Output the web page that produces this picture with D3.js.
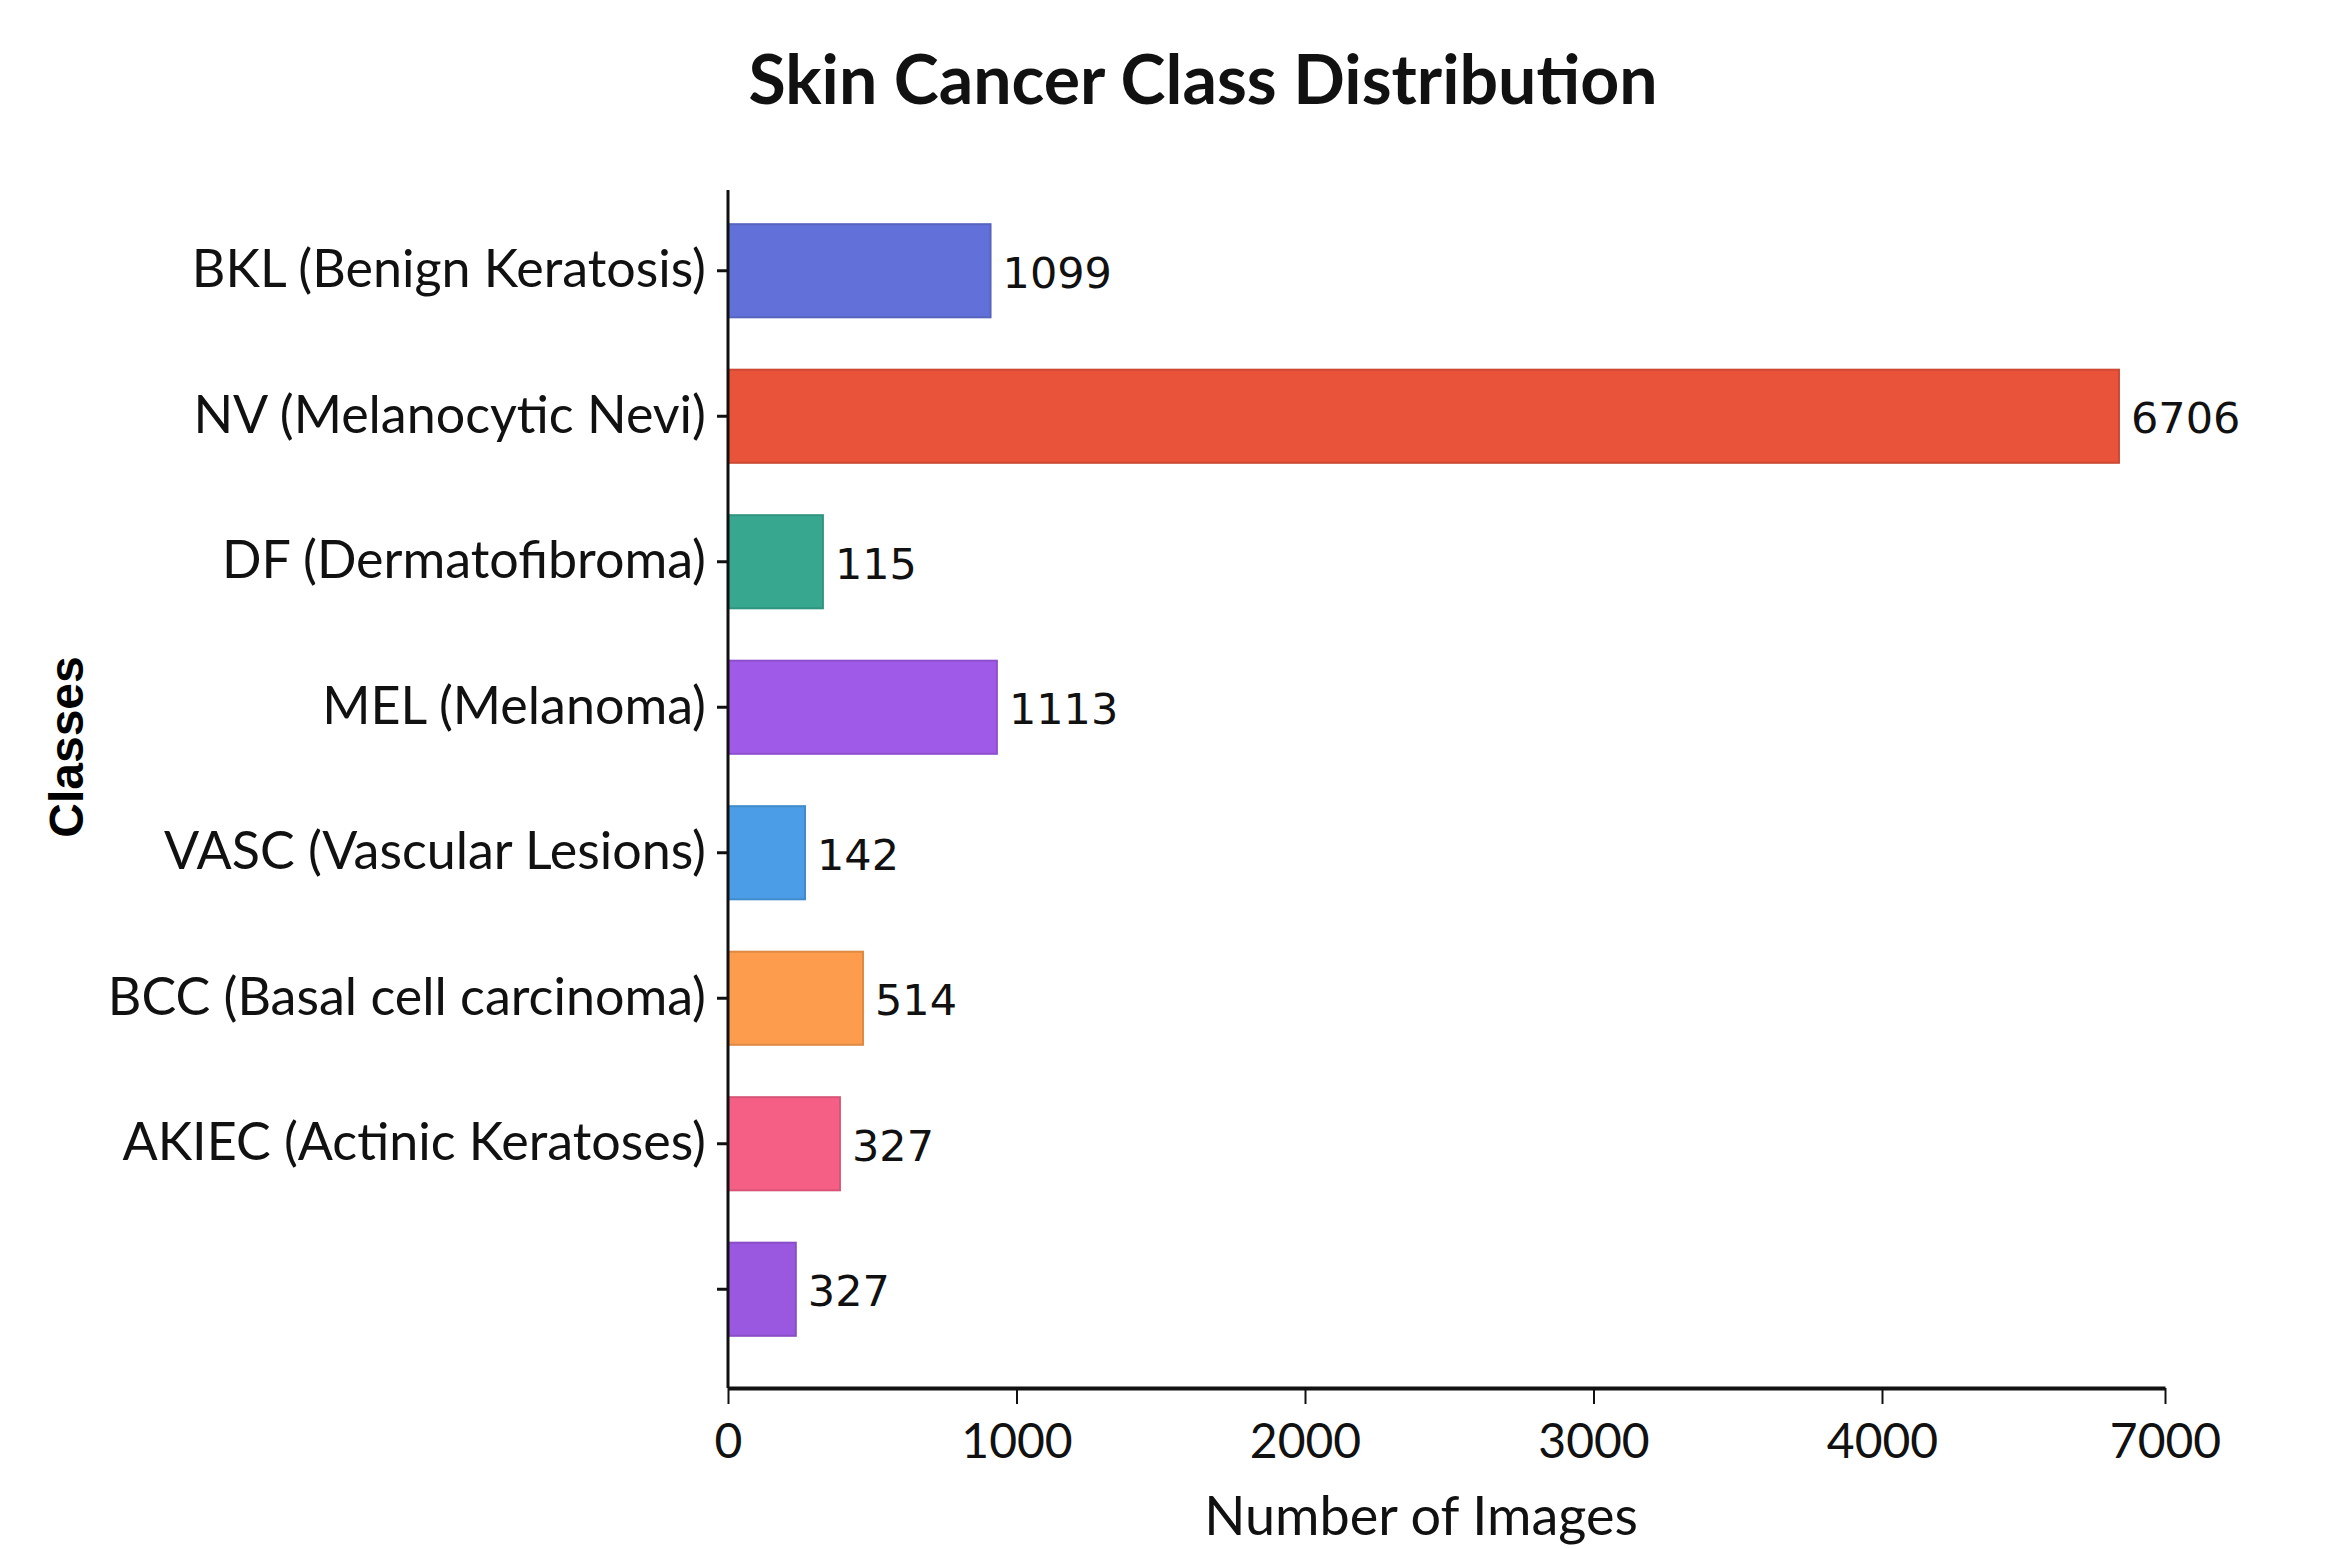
<!DOCTYPE html>
<html>
<head>
<meta charset="utf-8">
<script src="https://cdn.jsdelivr.net/npm/d3@7"></script>
<style>
  body { margin: 0; background: #fff; }
  svg { display: block; }
</style>
</head>
<body>
<svg id="chart"></svg>
<script>
// Class names (last bar has no label in the original)
var categories = [
    "BKL (Benign Keratosis)",
    "NV (Melanocytic Nevi)",
    "DF (Dermatofibroma)",
    "MEL (Melanoma)",
    "VASC (Vascular Lesions)",
    "BCC (Basal cell carcinoma)",
    "AKIEC (Actinic Keratoses)",
    ""
];

// Bar lengths as drawn against the axis
var barValues = [910, 6512, 329, 932, 267, 468, 388, 235];

// Numbers printed next to each bar
var valueLabels = [1099, 6706, 115, 1113, 142, 514, 327, 327];

var barColors = ["#6271d9", "#e8533a", "#37a88f", "#a05ae8", "#4a9de6", "#fc9c4c", "#f55f86", "#9a58e0"];

// Axis ticks (the axis jumps from 4000 to 7000)
var xTicks = [0, 1000, 2000, 3000, 4000, 7000];

var width = 2328;
var height = 1549;
var plotLeft = 728, plotRight = 2165, plotTop = 190, axisY = 1388;

var svg = d3.select("#chart")
    .attr("width", width)
    .attr("height", height);

var x = d3.scaleLinear()
    .domain([0, 4000, 7000])
    .range([plotLeft, 1882, plotRight]);

var y = d3.scaleBand()
    .domain(categories)
    .range([198, 1362])
    .paddingInner(0.36)
    .paddingOuter(0.18);

// Bars
svg.selectAll(".bar")
    .data(categories)
    .enter().append("rect")
    .attr("class", "bar")
    .attr("x", x(0))
    .attr("y", function(d) { return y(d); })
    .attr("width", function(d, i) { return x(barValues[i]) - x(0); })
    .attr("height", y.bandwidth())
    .attr("fill", function(d, i) { return barColors[i]; })
    .attr("stroke", function(d, i) { return d3.color(barColors[i]).darker(0.35); })
    .attr("stroke-width", 2);

// Value labels
svg.selectAll(".value")
    .data(categories)
    .enter().append("text")
    .attr("class", "value")
    .attr("x", function(d, i) { return x(barValues[i]) + 12; })
    .attr("y", function(d) { return y(d) + y.bandwidth() / 2; })
    .attr("dy", "0.4em")
    .style("font-family", "'DejaVu Sans', sans-serif")
    .style("font-size", "43px")
    .style("fill", "#111")
    .text(function(d, i) { return valueLabels[i]; });

// Y axis
var yAxis = svg.append("g")
    .attr("transform", "translate(" + plotLeft + ",0)")
    .call(d3.axisLeft(y).tickSize(11).tickPadding(11));
yAxis.select(".domain").remove();
yAxis.selectAll(".tick line").attr("stroke", "#111").attr("stroke-width", 3);
yAxis.selectAll(".tick text")
    .style("font-family", "Lato, sans-serif")
    .style("font-size", "52px")
    .style("fill", "#111");

svg.append("line")
    .attr("x1", plotLeft).attr("x2", plotLeft)
    .attr("y1", plotTop).attr("y2", axisY)
    .attr("stroke", "#111")
    .attr("stroke-width", 3);

// X axis
var xAxis = svg.append("g")
    .attr("transform", "translate(0," + axisY + ")")
    .call(d3.axisBottom(x).tickValues(xTicks).tickFormat(d3.format("d"))
        .tickSize(16).tickSizeOuter(0).tickPadding(20));
xAxis.select(".domain").attr("stroke", "#111").attr("stroke-width", 4);
xAxis.selectAll(".tick line").attr("stroke", "#111").attr("stroke-width", 2);
xAxis.selectAll(".tick text")
    .style("font-family", "Lato, sans-serif")
    .style("font-size", "48px")
    .style("fill", "#111");

// Title and axis labels
svg.append("text")
    .attr("x", 1203)
    .attr("y", 104)
    .attr("text-anchor", "middle")
    .style("font-family", "Lato, sans-serif")
    .style("font-weight", "bold")
    .style("font-size", "68px")
    .style("fill", "#111")
    .text("Skin Cancer Class Distribution");

svg.append("text")
    .attr("x", 1421)
    .attr("y", 1535)
    .attr("text-anchor", "middle")
    .style("font-family", "Lato, sans-serif")
    .style("font-size", "54px")
    .style("fill", "#111")
    .text("Number of Images");

svg.append("text")
    .attr("transform", "translate(83,747) rotate(-90)")
    .attr("text-anchor", "middle")
    .style("font-family", "'Liberation Sans', Arial, sans-serif")
    .style("font-weight", "bold")
    .style("font-size", "48px")
    .style("fill", "#000")
    .text("Classes");
</script>
</body>
</html>
